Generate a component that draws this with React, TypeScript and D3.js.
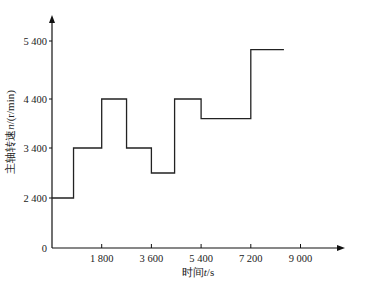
import React from "react";
import * as d3 from "d3";

// Data
const stepTimes = [0, 780, 1800, 2700, 3600, 4440, 5400, 7200];
const stepSpeeds = [2400, 3400, 4400, 3400, 2900, 4400, 4000, 5250];
const endTime = 8400;
const xTicks = [1800, 3600, 5400, 7200, 9000];
const yTicks = [0, 2400, 3400, 4400, 5400];
const fmt = (v: number) => (v >= 1000 ? `${Math.floor(v / 1000)} ${String(v % 1000).padStart(3, "0")}` : `${v}`);

const W = 365, H = 285;
const x0 = 52, y0 = 248;

export default function App() {
  const x = d3.scaleLinear().domain([0, 9000]).range([x0, 300.5]);
  // the original axis is broken (non-uniform), so use a piecewise scale through its ticks
  const y = d3.scaleLinear().domain(yTicks).range([248, 198, 148, 99, 41]);

  const pts: [number, number][] = stepTimes.map((t, i) => [t, stepSpeeds[i]]);
  pts.push([endTime, stepSpeeds[stepSpeeds.length - 1]]);
  const line = d3
    .line<[number, number]>()
    .x((d) => x(d[0]))
    .y((d) => y(d[1]))
    .curve(d3.curveStepAfter);

  const font = "'Liberation Serif', 'Times New Roman', serif";
  const axisTop = 15;
  const axisRight = 345;

  return (
    <svg width={W} height={H} style={{ position: "absolute", left: 0, top: 0, background: "#fff" }}>
      <rect width={W} height={H} fill="#fff" />
      {/* axes */}
      <line x1={x0} y1={y0} x2={x0} y2={axisTop + 6} stroke="#111" strokeWidth={1.2} />
      <path d={`M${x0},${axisTop} L${x0 - 3},${axisTop + 8} L${x0 + 3},${axisTop + 8} Z`} fill="#111" />
      <line x1={x0} y1={y0} x2={axisRight - 6} y2={y0} stroke="#111" strokeWidth={1.2} />
      <path d={`M${axisRight},${y0} L${axisRight - 8},${y0 - 3} L${axisRight - 8},${y0 + 3} Z`} fill="#111" />

      {/* y ticks */}
      {yTicks.map((v) => (
        <g key={`y${v}`}>
          {v !== 0 && <line x1={x0 - 3} x2={x0} y1={y(v)} y2={y(v)} stroke="#111" strokeWidth={1} />}
          <text x={x0 - 5} y={y(v)} dy="0.35em" textAnchor="end" fontFamily={font} fontSize={10.5} fill="#222">
            {fmt(v)}
          </text>
        </g>
      ))}

      {/* x ticks */}
      {xTicks.map((v) => (
        <g key={`x${v}`}>
          <line x1={x(v)} x2={x(v)} y1={y0} y2={y0 - 4} stroke="#111" strokeWidth={1} />
          <text x={x(v)} y={y0 + 14} textAnchor="middle" fontFamily={font} fontSize={10.5} fill="#222">
            {fmt(v)}
          </text>
        </g>
      ))}

      {/* data line */}
      <path d={line(pts) || ""} fill="none" stroke="#222" strokeWidth={1.3} />

      {/* axis titles */}
      <text x={198} y={276} textAnchor="middle" fontFamily={font} fontSize={11} fill="#222">
        时间<tspan fontStyle="italic">t</tspan>/s
      </text>
      <text
        transform={`translate(14,132) rotate(-90)`}
        textAnchor="middle"
        fontFamily={font}
        fontSize={11}
        fill="#222"
      >
        主轴转速<tspan fontStyle="italic">n</tspan>/(r/min)
      </text>
    </svg>
  );
}
